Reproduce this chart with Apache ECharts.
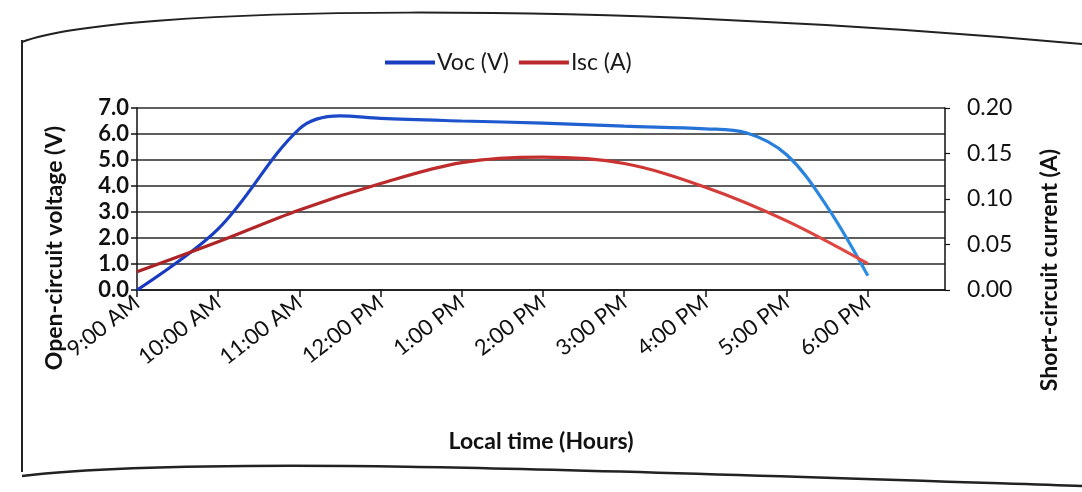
<!DOCTYPE html>
<html>
<head>
<meta charset="utf-8">
<script src="https://cdn.jsdelivr.net/npm/echarts@6/dist/echarts.min.js"></script>
<style>
html,body{margin:0;padding:0;background:#ffffff;}
#chart{width:1082px;height:492px;}
</style>
</head>
<body>
<div id="chart"></div>
<script>
// Data (hours of the day, local time)
const hours = [9, 10, 11, 11.5, 12, 13, 14, 15, 16, 16.5, 17, 17.5, 18];
const vocValues = [0.0, 2.35, 6.2, 6.7, 6.6, 6.5, 6.42, 6.3, 6.2, 6.05, 5.2, 3.2, 0.55];
const iscHours = [9, 10, 11, 12, 13, 14, 15, 16, 17, 18];
const iscValues = [0.020, 0.053, 0.088, 0.117, 0.140, 0.146, 0.139, 0.113, 0.076, 0.029];
const tickHours = [9, 10, 11, 12, 13, 14, 15, 16, 17, 18];
const vocTicks = ['0.0','1.0','2.0','3.0','4.0','5.0','6.0','7.0'];
const iscTicks = ['0.00','0.05','0.10','0.15','0.20'];

function hourLabel(v) {
  if (Math.abs(v - Math.round(v)) > 1e-6 || v > 18) return '';
  const h = Math.round(v);
  if (h < 12) return h + ':00 AM';
  if (h === 12) return '12:00 PM';
  return (h - 12) + ':00 PM';
}

const font = 'Lato, "Open Sans", sans-serif';
const chart = echarts.init(document.getElementById('chart'));

chart.setOption({
  backgroundColor: '#ffffff',
  animation: false,
  legend: {
    top: 46,
    left: 380,
    icon: 'rect',
    itemWidth: 50,
    itemHeight: 4,
    itemGap: 10,
    textStyle: { fontFamily: font, fontSize: 23, color: '#1a1a1a', padding: [0, 0, 0, -3] },
    data: ['Voc (V)', 'Isc (A)']
  },
  grid: { left: 137, right: 137, top: 108, bottom: 202 },
  xAxis: {
    type: 'value',
    min: 9,
    max: 18.95,
    interval: 1,
    name: 'Local time (Hours)',
    nameLocation: 'middle',
    nameGap: 140,
    nameTextStyle: { fontFamily: font, fontSize: 23, fontWeight: 'bold', color: '#111' },
    axisLine: { show: true, lineStyle: { color: '#111', width: 1.5 } },
    axisTick: { show: true, length: 7, customValues: tickHours, lineStyle: { color: '#111', width: 1.5 } },
    splitLine: { show: false },
    axisLabel: {
      rotate: 38,
      fontFamily: font,
      fontSize: 22,
      color: '#111',
      margin: 10,
      customValues: tickHours,
      formatter: hourLabel
    }
  },
  yAxis: [
    {
      type: 'value',
      min: 0,
      max: 7,
      interval: 1,
      position: 'left',
      axisLine: { show: true, lineStyle: { color: '#111', width: 1.5 } },
      axisTick: { show: true, length: 6, lineStyle: { color: '#111', width: 1.5 } },
      splitLine: { show: true, lineStyle: { color: '#2a2a2a', width: 1.5 } },
      axisLabel: {
        fontFamily: font,
        fontSize: 22,
        fontWeight: 'bold',
        color: '#111',
        margin: 8,
        formatter: function (v) { return vocTicks[Math.round(v)] || ''; }
      }
    },
    {
      type: 'value',
      min: 0,
      max: 0.2,
      interval: 0.05,
      position: 'right',
      axisLine: { show: true, lineStyle: { color: '#111', width: 1.5 } },
      axisTick: { show: true, length: 5, lineStyle: { color: '#111', width: 1.2 } },
      splitLine: { show: false },
      axisLabel: {
        fontFamily: font,
        fontSize: 23,
        color: '#111',
        margin: 22,
        formatter: function (v) { return iscTicks[Math.round(v / 0.05)] || ''; }
      }
    }
  ],
  graphic: [
    {
      type: 'text',
      x: 55, y: 248,
      rotation: Math.PI / 2,
      style: {
        text: 'Open-circuit voltage (V)',
        fontFamily: font, fontSize: 23, fontWeight: 'bold', fill: '#111',
        align: 'center', verticalAlign: 'middle'
      }
    },
    {
      type: 'text',
      x: 1050, y: 270,
      rotation: Math.PI / 2,
      style: {
        text: 'Short-circuit current (A)',
        fontFamily: font, fontSize: 23, fontWeight: 'bold', fill: '#111',
        align: 'center', verticalAlign: 'middle'
      }
    },
    {
      type: 'bezierCurve',
      shape: { x1: 22, y1: 42, cpx1: 120, cpy1: 5, x2: 1082, y2: 44, cpx2: 600, cpy2: 0 },
      style: { stroke: '#222', lineWidth: 2, fill: null }
    },
    {
      type: 'line',
      shape: { x1: 22, y1: 40, x2: 22, y2: 472 },
      style: { stroke: '#222', lineWidth: 2 }
    },
    {
      type: 'bezierCurve',
      shape: { x1: 22, y1: 476, cpx1: 200, cpy1: 455, x2: 1082, y2: 486, cpx2: 600, cpy2: 470 },
      style: { stroke: '#222', lineWidth: 2.5, fill: null }
    }
  ],
  series: [
    {
      name: 'Voc (V)',
      type: 'line',
      yAxisIndex: 0,
      smooth: 0.35,
      symbol: 'none',
      itemStyle: { color: '#1a3cc0' },
      lineStyle: {
        width: 3.2,
        color: new echarts.graphic.LinearGradient(0, 0, 1, 0, [
          { offset: 0, color: '#1736c0' },
          { offset: 0.6, color: '#1f5fd0' },
          { offset: 1, color: '#2d8fe2' }
        ])
      },
      data: hours.map((h, i) => [h, vocValues[i]]),
      z: 3
    },
    {
      name: 'Isc (A)',
      type: 'line',
      yAxisIndex: 1,
      smooth: 0.35,
      symbol: 'none',
      itemStyle: { color: '#b8282c' },
      lineStyle: {
        width: 3.2,
        color: new echarts.graphic.LinearGradient(0, 0, 1, 0, [
          { offset: 0, color: '#a82226' },
          { offset: 0.6, color: '#c8302f' },
          { offset: 1, color: '#e24a45' }
        ])
      },
      data: iscHours.map((h, i) => [h, iscValues[i]]),
      z: 4
    }
  ]
});
</script>
</body>
</html>
